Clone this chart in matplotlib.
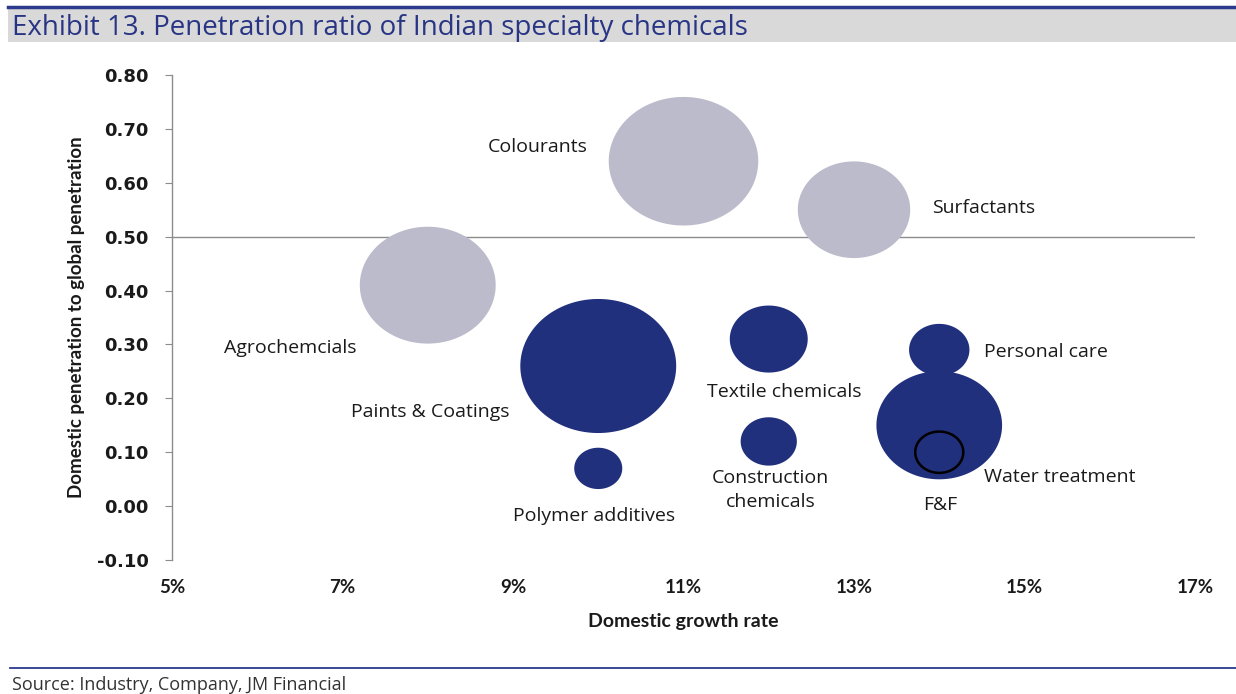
import numpy as np
import matplotlib
matplotlib.use("Agg")
import matplotlib.pyplot as plt
from matplotlib.path import Path
from matplotlib.patches import Rectangle
from matplotlib.lines import Line2D

# ---- data ----
categories = ["Colourants", "Surfactants", "Agrochemcials", "Paints & Coatings",
              "Textile chemicals", "Construction\nchemicals", "Polymer additives",
              "Personal care", "Water treatment", "F&F"]
growth = [11.0, 13.0, 8.0, 10.0, 12.0, 12.0, 10.0, 14.0, 14.0, 14.0]          # %
penetration = [0.64, 0.55, 0.41, 0.26, 0.31, 0.12, 0.07, 0.29, 0.15, 0.10]
bubble_size = [92, 52, 76, 100, 25, 13, 9.5, 15, 65, 9.5]
group = ["above", "above", "above", "below", "below", "below", "below", "below", "below", "ring"]

xticks = [5, 7, 9, 11, 13, 15, 17]
yticks = [-0.10, 0.00, 0.10, 0.20, 0.30, 0.40, 0.50, 0.60, 0.70, 0.80]

# label offsets (points) from bubble centre
label_offsets = [(-105, 10), (93, 1.5), (-99, -45), (-121, -33), (11.5, -38),
                 (1.5, -35), (-3, -34), (77, -1.5), (87, -37), (0.7, -38)]

GREY = "#BCBBCB"
NAVY = "#21307D"
TXT = "#1a1a1a"

fig = plt.figure(figsize=(12.36, 6.94), dpi=100)

# title band
fig.add_artist(Rectangle((8/1236, 1-42/694), 1-8/1236, 34/694, transform=fig.transFigure,
                         facecolor="#D9D9D9", edgecolor="none"))
fig.add_artist(Line2D([8/1236, 1], [1-7/694, 1-7/694], transform=fig.transFigure,
                      color="#2B3A8C", lw=2.5))
fig.text(12/1236, 1-28/694, "Exhibit 13. Penetration ratio of Indian specialty chemicals",
         fontsize=20, color="#283584", family="Open Sans", va="center", ha="left")

# footer
fig.add_artist(Line2D([10/1236, 1], [1-668/694, 1-668/694], transform=fig.transFigure,
                      color="#2B3A8C", lw=1.3))
fig.text(12/1236, 1-685/694, "Source: Industry, Company, JM Financial",
         fontsize=13, color="#333333", family="Open Sans", va="center", ha="left")

ax = fig.add_axes([172/1236, 1-560/694, (1195-172)/1236, (560-75)/694])
ax.set_xlim(5, 17)
ax.set_ylim(-0.10, 0.80)

# elliptical marker (as in stretched reference)
t = np.linspace(0, 2*np.pi, 120)
ell = Path(np.column_stack([np.cos(t), 0.86*np.sin(t)]), closed=True)
scale = 126.0

x = np.array(growth); y = np.array(penetration); s = np.array(bubble_size) * scale
for i in range(len(categories)):
    if group[i] == "above":
        ax.scatter(x[i], y[i], s=s[i], marker=ell, color=GREY, edgecolors="none", zorder=2)
    elif group[i] == "below":
        ax.scatter(x[i], y[i], s=s[i], marker=ell, color=NAVY, edgecolors="none", zorder=3)
    else:
        ax.scatter(x[i], y[i], s=s[i], marker=ell, facecolors="none", edgecolors="black",
                   linewidths=1.8, zorder=4)
    ax.annotate(categories[i], (x[i], y[i]), xytext=label_offsets[i], textcoords="offset points",
                ha="center", va="center", fontsize=14, color=TXT, family="Open Sans",
                linespacing=1.45, zorder=5)

# horizontal axis crossing at 0.50
ax.axhline(0.50, color="#8c8c8c", lw=1.0, zorder=1)

for sp in ["top", "right", "bottom"]:
    ax.spines[sp].set_visible(False)
ax.spines["left"].set_color("#8c8c8c")
ax.spines["left"].set_linewidth(1.0)

ax.set_yticks(yticks)
ax.set_yticklabels([f"{v:.2f}" for v in yticks], fontsize=13, fontweight="bold",
                   family="DejaVu Sans", color=TXT)
ax.tick_params(axis="y", direction="out", length=5, color="#8c8c8c", pad=12)
ax.set_xticks(xticks)
ax.set_xticklabels([f"{v}%" for v in xticks], fontsize=13.5, fontweight="bold",
                   family="Lato", color=TXT)
ax.tick_params(axis="x", length=0, pad=14)

ax.set_xlabel("Domestic growth rate", fontsize=14, fontweight="bold", family="Lato",
              color=TXT, labelpad=12)
ax.set_ylabel("Domestic penetration to global penetration", fontsize=13.5, fontweight="bold",
              family="Lato", color=TXT, labelpad=8)

fig.savefig("out.png", dpi=100)
